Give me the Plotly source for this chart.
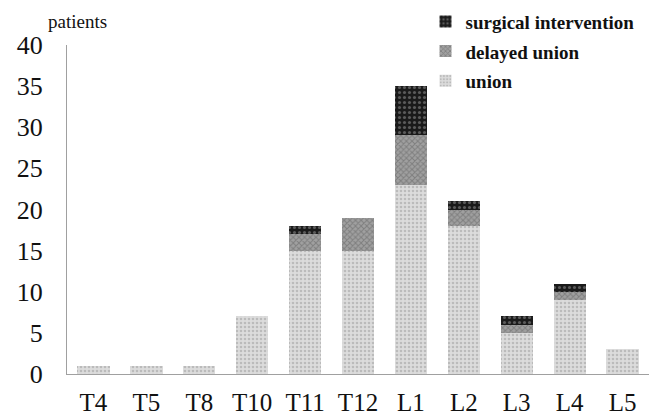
import plotly.graph_objects as go

categories = ["T4", "T5", "T8", "T10", "T11", "T12", "L1", "L2", "L3", "L4", "L5"]
union = [1, 1, 1, 7, 15, 15, 23, 18, 5, 9, 3]
delayed_union = [0, 0, 0, 0, 2, 4, 6, 2, 1, 1, 0]
surgical = [0, 0, 0, 0, 1, 0, 6, 1, 1, 1, 0]
y_ticks = [0, 5, 10, 15, 20, 25, 30, 35, 40]

serif = "Liberation Serif, Times New Roman, serif"

fig = go.Figure()
fig.add_trace(go.Bar(
    x=categories, y=union, name="union", legendgroup="u", legendrank=3,
    marker=dict(color="#d0d0d0", line=dict(width=0),
                pattern=dict(shape=".", fgcolor="#9a9a9a", bgcolor="#dcdcdc", size=4, solidity=0.35)),
))
fig.add_trace(go.Bar(
    x=categories, y=delayed_union, name="delayed union", legendgroup="d", legendrank=2,
    marker=dict(color="#888888", line=dict(width=0),
                pattern=dict(shape="x", fgcolor="#5e5e5e", bgcolor="#a0a0a0", size=4, solidity=0.45)),
))
fig.add_trace(go.Bar(
    x=categories, y=surgical, name="surgical intervention", legendgroup="s", legendrank=1,
    marker=dict(color="#222222", line=dict(width=0),
                pattern=dict(shape=".", fgcolor="#9a9a9a", bgcolor="#1a1a1a", size=5, solidity=0.3)),
))

fig.update_layout(
    width=652, height=417,
    barmode="stack", bargap=0.39,
    plot_bgcolor="white", paper_bgcolor="white",
    margin=dict(l=67, r=3, t=45, b=43, autoexpand=False),
    font=dict(family=serif, color="#111111"),
    legend=dict(
        x=0.616, y=1.129, xanchor="left", yanchor="top",
        traceorder="grouped",
        font=dict(family=serif, size=19, color="#111111", weight="bold"),
        itemwidth=30, tracegroupgap=2,
        bgcolor="rgba(0,0,0,0)",
    ),
    showlegend=True,
)
fig.update_xaxes(
    showline=True, linecolor="#a0a0a0", linewidth=1, automargin=False,
    showgrid=False, ticks="", tickfont=dict(size=25, family=serif),
    ticklabelstandoff=6,
)
fig.update_yaxes(
    range=[0, 40], tickvals=y_ticks, automargin=False,
    showline=True, linecolor="#a0a0a0", linewidth=1,
    showgrid=False, zeroline=False, ticks="",
    tickfont=dict(size=26, family=serif), ticklabelstandoff=18,
)
fig.add_annotation(
    text="patients", xref="paper", yref="paper", x=-0.036, y=1.07,
    xanchor="left", yanchor="middle", showarrow=False,
    font=dict(family=serif, size=19, color="#111111"),
)

fig.write_html("out.html", config={"displayModeBar": False},
               post_script="document.body.style.margin='0';")
